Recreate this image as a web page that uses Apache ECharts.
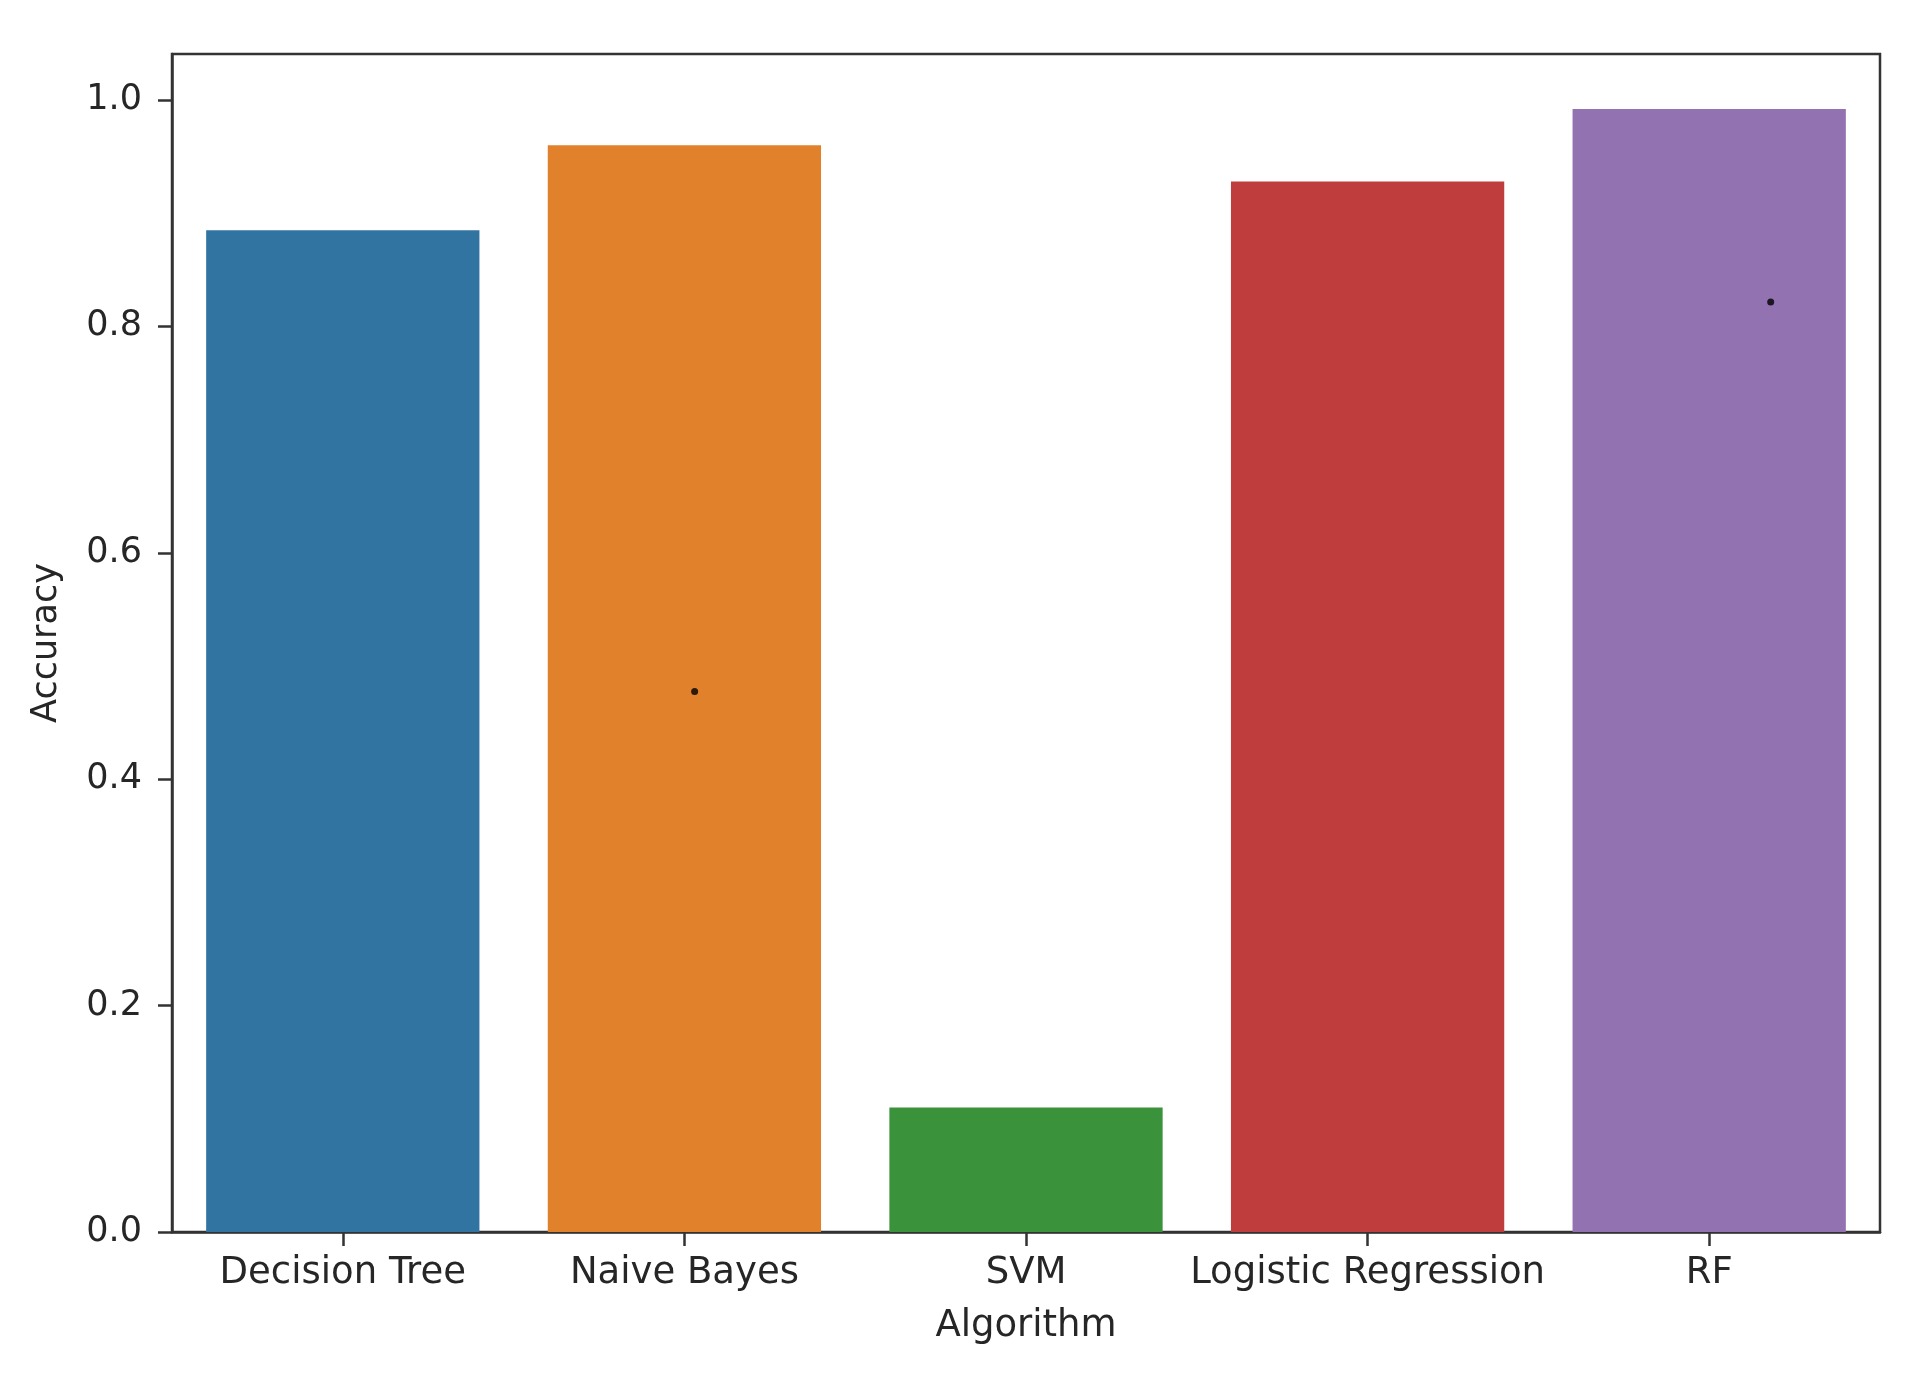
<!DOCTYPE html>
<html>
<head>
<meta charset="utf-8">
<script src="https://cdn.jsdelivr.net/npm/echarts@6/dist/echarts.min.js"></script>
<style>
html,body{margin:0;padding:0;background:#fff;}
#chart{width:1926px;height:1381px;}
</style>
</head>
<body>
<div id="chart"></div>
<script>
const categories = ['Decision Tree', 'Naive Bayes', 'SVM', 'Logistic Regression', 'RF'];
const accuracy = [0.885, 0.960, 0.110, 0.928, 0.992];
const barColors = ['#3274a1', '#e1812c', '#3a923a', '#c03d3e', '#9372b2'];
const yTicks = [0.0, 0.2, 0.4, 0.6, 0.8, 1.0];
// small stray dots visible in the picture: [x position in category units, value]
const strayDots = [[1.03, 0.4775], [4.18, 0.8216]];

const FONT = 'DejaVu Sans';
const chart = echarts.init(document.getElementById('chart'), null, {renderer: 'canvas'});
chart.setOption({
  animation: false,
  backgroundColor: '#ffffff',
  grid: {left: 172, right: 46, top: 54, bottom: 149, show: true, borderColor: '#333', borderWidth: 2.5, backgroundColor: 'transparent'},
  xAxis: [{
    type: 'category',
    data: categories,
    boundaryGap: true,
    name: 'Algorithm',
    nameLocation: 'middle',
    nameGap: 76,
    nameTextStyle: {fontFamily: FONT, fontSize: 37, color: '#262626'},
    axisLine: {show: true, lineStyle: {color: '#333', width: 2.5}},
    axisTick: {show: true, alignWithLabel: true, length: 14, inside: false, lineStyle: {color: '#333', width: 2.5}},
    axisLabel: {fontFamily: FONT, fontSize: 37, color: '#262626', margin: 23, interval: 0},
    splitLine: {show: false}
  }, {
    type: 'value',
    min: -0.5, max: 4.5,
    show: false
  }],
  yAxis: {
    type: 'value',
    min: 0,
    max: 1.0406,
    interval: 0.2,
    name: 'Accuracy',
    nameLocation: 'middle',
    nameGap: 108,
    nameTextStyle: {fontFamily: FONT, fontSize: 35, color: '#262626'},
    axisLine: {show: true, onZero: false, lineStyle: {color: '#333', width: 2.5}},
    axisTick: {show: true, length: 14, customValues: yTicks, lineStyle: {color: '#333', width: 2.5}},
    axisLabel: {fontFamily: FONT, fontSize: 35, color: '#262626', margin: 30, customValues: yTicks,
      formatter: v => v.toFixed(1)},
    splitLine: {show: false}
  },
  series: [{
    type: 'bar',
    data: accuracy.map((v, i) => ({value: v, itemStyle: {color: barColors[i]}})),
    barWidth: '80%',
    xAxisIndex: 0
  }, {
    type: 'scatter',
    xAxisIndex: 1,
    data: strayDots,
    symbolSize: 7,
    itemStyle: {color: '#000'},
    silent: true
  }]
});
</script>
</body>
</html>
